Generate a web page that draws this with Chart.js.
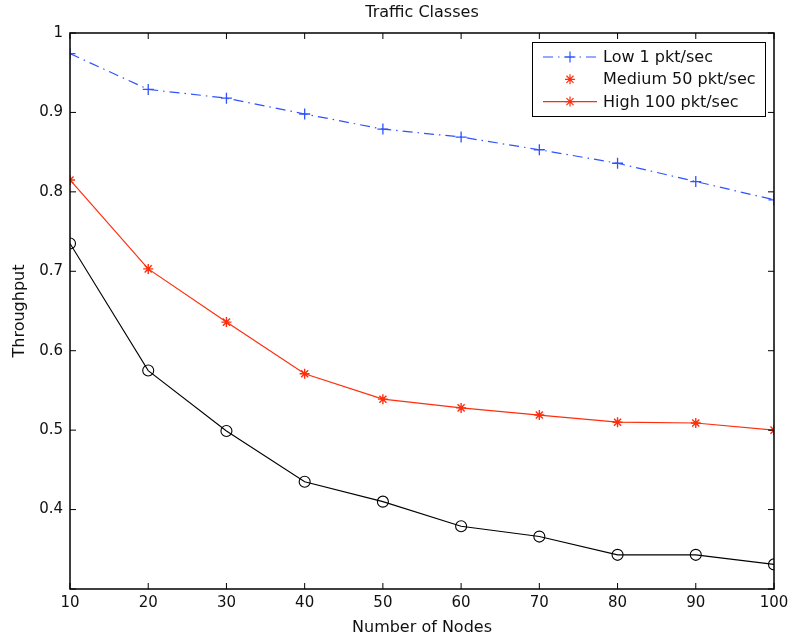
<!DOCTYPE html>
<html>
<head>
<meta charset="utf-8">
<script src="https://cdn.jsdelivr.net/npm/chart.js@4.4.1/dist/chart.umd.min.js"></script>
<style>
  html, body { margin: 0; padding: 0; background: #fff; }
  #wrap { width: 791px; height: 641px; }
</style>
</head>
<body>
<div id="wrap"><canvas id="chart" width="791" height="641"></canvas></div>
<script>
// chart values
const nodes = [10, 20, 30, 40, 50, 60, 70, 80, 90, 100];
const lowRate = [0.974, 0.929, 0.918, 0.898, 0.879, 0.869, 0.853, 0.836, 0.813, 0.790];
const highRate = [0.815, 0.703, 0.636, 0.571, 0.539, 0.528, 0.519, 0.510, 0.509, 0.500];
const blackSeries = [0.735, 0.575, 0.499, 0.435, 0.410, 0.379, 0.366, 0.343, 0.343, 0.331];
const yTickLabels = ['0.4', '0.5', '0.6', '0.7', '0.8', '0.9', '1'];
const legendLabels = ['Low 1 pkt/sec', 'Medium 50 pkt/sec', 'High 100 pkt/sec'];
const chartTitle = 'Traffic Classes';

const BLUE = '#2f52ff';
const RED = '#ff2d0c';
const FONT = '"DejaVu Sans", sans-serif';

const toPoints = (ys) => ys.map((y, i) => ({ x: nodes[i], y }));

// MATLAB-like frame: box, inward ticks on all sides, title, legend
const matlabFrame = {
    id: 'matlabFrame',
    afterDraw(chart) {
        const { ctx, chartArea: a, scales } = chart;
        ctx.save();
        ctx.strokeStyle = '#000';
        ctx.lineWidth = 1.5;
        ctx.strokeRect(a.left, a.top, a.right - a.left, a.bottom - a.top);

        // inward ticks
        const len = 6;
        ctx.lineWidth = 1;
        ctx.beginPath();
        scales.x.ticks.forEach(t => {
            const px = scales.x.getPixelForValue(t.value);
            ctx.moveTo(px, a.bottom); ctx.lineTo(px, a.bottom - len);
            ctx.moveTo(px, a.top); ctx.lineTo(px, a.top + len);
        });
        scales.y.ticks.forEach(t => {
            const py = scales.y.getPixelForValue(t.value);
            ctx.moveTo(a.left, py); ctx.lineTo(a.left + len, py);
            ctx.moveTo(a.right, py); ctx.lineTo(a.right - len, py);
        });
        ctx.stroke();

        // title
        ctx.fillStyle = '#111';
        ctx.font = '16px ' + FONT;
        ctx.textAlign = 'center';
        ctx.textBaseline = 'middle';
        ctx.fillText(chartTitle, (a.left + a.right) / 2, 13);

        // legend
        const bx = a.right - 242, by = a.top + 9, bw = 233, bh = 74;
        ctx.fillStyle = '#fff';
        ctx.fillRect(bx, by, bw, bh);
        ctx.strokeStyle = '#000';
        ctx.lineWidth = 1;
        ctx.strokeRect(bx + 0.5, by + 0.5, bw, bh);

        const entries = [
            { color: BLUE, dash: [10, 5, 1.5, 5], line: true, style: 'cross', r: 5.5 },
            { color: RED, dash: [], line: false, style: 'star', r: 5 },
            { color: RED, dash: [], line: true, style: 'star', r: 5 }
        ];
        ctx.font = '16px ' + FONT;
        ctx.textAlign = 'left';
        entries.forEach((e, i) => {
            const cy = by + 15 + i * 22.3;
            ctx.strokeStyle = e.color;
            ctx.lineWidth = 1.2;
            if (e.line) {
                ctx.setLineDash(e.dash);
                ctx.beginPath();
                ctx.moveTo(bx + 11, cy);
                ctx.lineTo(bx + 65, cy);
                ctx.stroke();
                ctx.setLineDash([]);
            }
            ctx.fillStyle = 'rgba(0,0,0,0)';
            Chart.helpers.drawPoint(ctx, { pointStyle: e.style, radius: e.r, borderWidth: 1.3, rotation: 0 }, bx + 38, cy);
            ctx.fillStyle = '#111';
            ctx.fillText(legendLabels[i], bx + 71, cy + 1);
        });
        ctx.restore();
    }
};

new Chart(document.getElementById('chart'), {
    type: 'line',
    data: {
        datasets: [
            {
                label: legendLabels[0],
                data: toPoints(lowRate),
                borderColor: BLUE,
                borderWidth: 1.2,
                borderDash: [10, 5, 1.5, 5],
                pointStyle: 'cross',
                pointRadius: 5.5,
                pointBorderColor: BLUE,
                pointBorderWidth: 1.3,
                tension: 0
            },
            {
                label: legendLabels[2],
                data: toPoints(highRate),
                borderColor: RED,
                borderWidth: 1.2,
                pointStyle: 'star',
                pointRadius: 5,
                pointBorderColor: RED,
                pointBorderWidth: 1.4,
                tension: 0
            },
            {
                label: 'unlabelled',
                data: toPoints(blackSeries),
                borderColor: '#000',
                borderWidth: 1.1,
                pointStyle: 'circle',
                pointRadius: 5.5,
                pointBackgroundColor: 'rgba(0,0,0,0)',
                pointBorderColor: '#000',
                pointBorderWidth: 1.1,
                tension: 0
            }
        ]
    },
    options: {
        responsive: false,
        animation: false,
        events: [],
        layout: { padding: { left: 0, top: 33, right: 17, bottom: 0 } },
        plugins: {
            legend: { display: false },
            title: { display: false },
            tooltip: { enabled: false }
        },
        scales: {
            x: {
                type: 'linear',
                min: 10,
                max: 100,
                afterFit: (s) => { s.height = 52; s.paddingLeft = 0; s.paddingRight = 0; },
                ticks: {
                    stepSize: 10,
                    padding: 5,
                    color: '#111',
                    font: { family: FONT, size: 15 },
                    callback: (v) => String(v)
                },
                grid: { display: false, drawTicks: false },
                border: { display: false },
                title: {
                    display: true,
                    text: 'Number of Nodes',
                    color: '#111',
                    font: { family: FONT, size: 16 },
                    padding: { top: 0, bottom: 4 }
                }
            },
            y: {
                min: 0.3,
                max: 1,
                afterFit: (s) => { s.width = 70; },
                ticks: {
                    stepSize: 0.1,
                    padding: 7,
                    color: '#111',
                    font: { family: FONT, size: 15 },
                    callback: (v) => {
                        const idx = Math.round(v * 10) - 4;
                        return idx >= 0 ? yTickLabels[idx] : '';
                    }
                },
                grid: { display: false, drawTicks: false },
                border: { display: false },
                title: {
                    display: true,
                    text: 'Throughput',
                    color: '#111',
                    font: { family: FONT, size: 16 },
                    padding: { top: 10, bottom: 0 }
                }
            }
        }
    },
    plugins: [matlabFrame]
});
</script>
</body>
</html>
